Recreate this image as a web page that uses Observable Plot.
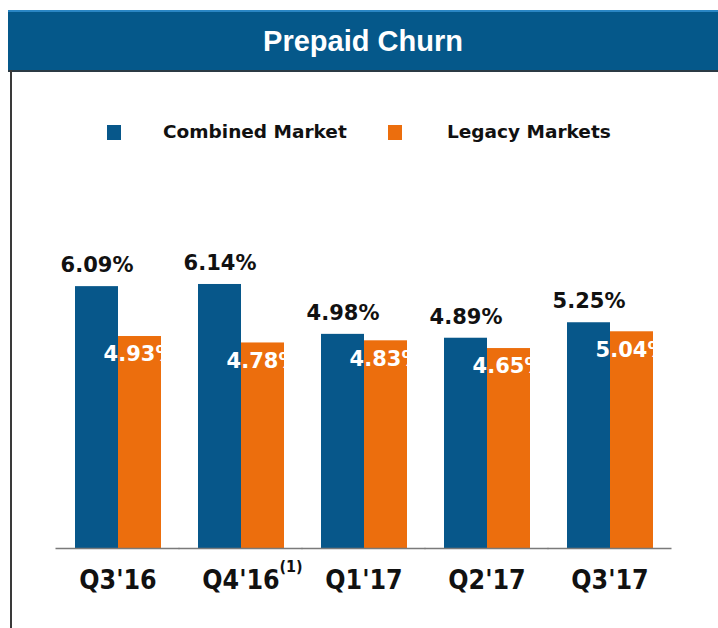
<!DOCTYPE html>
<html>
<head>
<meta charset="utf-8">
<script src="https://cdn.jsdelivr.net/npm/d3@7"></script>
<script src="https://cdn.jsdelivr.net/npm/@observablehq/plot@0.6"></script>
<style>
  html, body { margin: 0; padding: 0; background: #fff; }
  #wrap { position: relative; width: 718px; height: 628px; overflow: hidden; background: #fff; }
  #header { position: absolute; left: 8px; top: 10px; width: 710px; height: 58px;
    background: #05588a; border-top: 2px solid #2a86c4; border-bottom: 2px solid #2b3a44;
    color: #fff; font: bold 29px "Liberation Sans", Arial, sans-serif; text-align: center; line-height: 58px; }
  #leftline { position: absolute; left: 10px; top: 70px; width: 2px; height: 558px; background: #3a3a3a; }
  #legend { position: absolute; top: 120px; left: 0; width: 718px; height: 28px;
    font: bold 18.5px "DejaVu Sans", Verdana, sans-serif; color: #111; }
  .sw { position: absolute; top: 5px; width: 14px; height: 15px; }
  .lt { position: absolute; top: 1px; white-space: nowrap; }
  #chart { position: absolute; left: 0; top: 160px; }
</style>
</head>
<body>
<div id="wrap">
  <div id="header">Prepaid Churn</div>
  <div id="leftline"></div>
  <div id="legend"></div>
  <div id="chart"></div>
</div>
<script>
const quarters = ["Q3'16", "Q4'16", "Q1'17", "Q2'17", "Q3'17"];
const seriesNames = ["Combined Market", "Legacy Markets"];
const combined = [6.09, 6.14, 4.98, 4.89, 5.25];
const legacy = [4.93, 4.78, 4.83, 4.65, 5.04];
const colors = ["#07578a", "#ec6e0d"];
const footnotes = [{quarter: "Q4'16", note: "(1)"}];

const data = quarters.flatMap((q, i) => [
  {quarter: q, series: seriesNames[0], value: combined[i]},
  {quarter: q, series: seriesNames[1], value: legacy[i]}
]);

// legend
const legend = document.getElementById("legend");
const legendPos = [{sw: 107, tx: 163}, {sw: 388, tx: 447}];
seriesNames.forEach((s, i) => {
  const sw = document.createElement("div");
  sw.className = "sw"; sw.style.left = legendPos[i].sw + "px"; sw.style.background = colors[i];
  legend.appendChild(sw);
  const t = document.createElement("div");
  t.className = "lt"; t.style.left = legendPos[i].tx + "px"; t.textContent = s;
  legend.appendChild(t);
});

const fmt = d => d.toFixed(2) + "%";
const labelFont = "DejaVu Sans";

const plot = Plot.plot({
  width: 718,
  height: 468,
  marginLeft: 55,
  marginRight: 46,
  marginTop: 0,
  marginBottom: 80,
  fx: {domain: quarters, paddingInner: 0.296, paddingOuter: 0.148, label: null},
  x: {domain: seriesNames, padding: 0, axis: null},
  y: {domain: [0, 7], range: [388, 87], axis: null},
  color: {domain: seriesNames, range: colors},
  style: {background: "transparent"},
  marks: [
    Plot.barY(data, {fx: "quarter", x: "series", y: "value", fill: "series"}),
    Plot.ruleY([0], {stroke: "#7a7a7a", strokeWidth: 1.5, insetLeft: -18.5, insetRight: -18.5}),
    Plot.text(data.filter(d => d.series === seriesNames[0]), {
      fx: "quarter", x: "series", y: "value", text: d => fmt(d.value),
      dy: -21, fill: "#111", fontSize: 21, fontWeight: "bold", fontFamily: labelFont
    }),
    Plot.text(data.filter(d => d.series === seriesNames[1]), {
      fx: "quarter", x: "series", y: "value", text: d => fmt(d.value),
      dy: 18, fill: "#fff", fontSize: 21, fontWeight: "bold", fontFamily: labelFont
    }),
    Plot.axisFx({anchor: "bottom", tickSize: 0, tickPadding: 22, label: null,
      fontSize: 26.5, fontWeight: "bold", fontFamily: "DejaVu Sans Condensed", fill: "#111"}),
    Plot.text(footnotes, {fx: "quarter", text: "note", frameAnchor: "bottom",
      dx: 50, dy: 23, fontSize: 16, fontWeight: "bold", fontFamily: "DejaVu Sans Condensed", fill: "#111"})
  ]
});
document.getElementById("chart").appendChild(plot);
</script>
</body>
</html>
